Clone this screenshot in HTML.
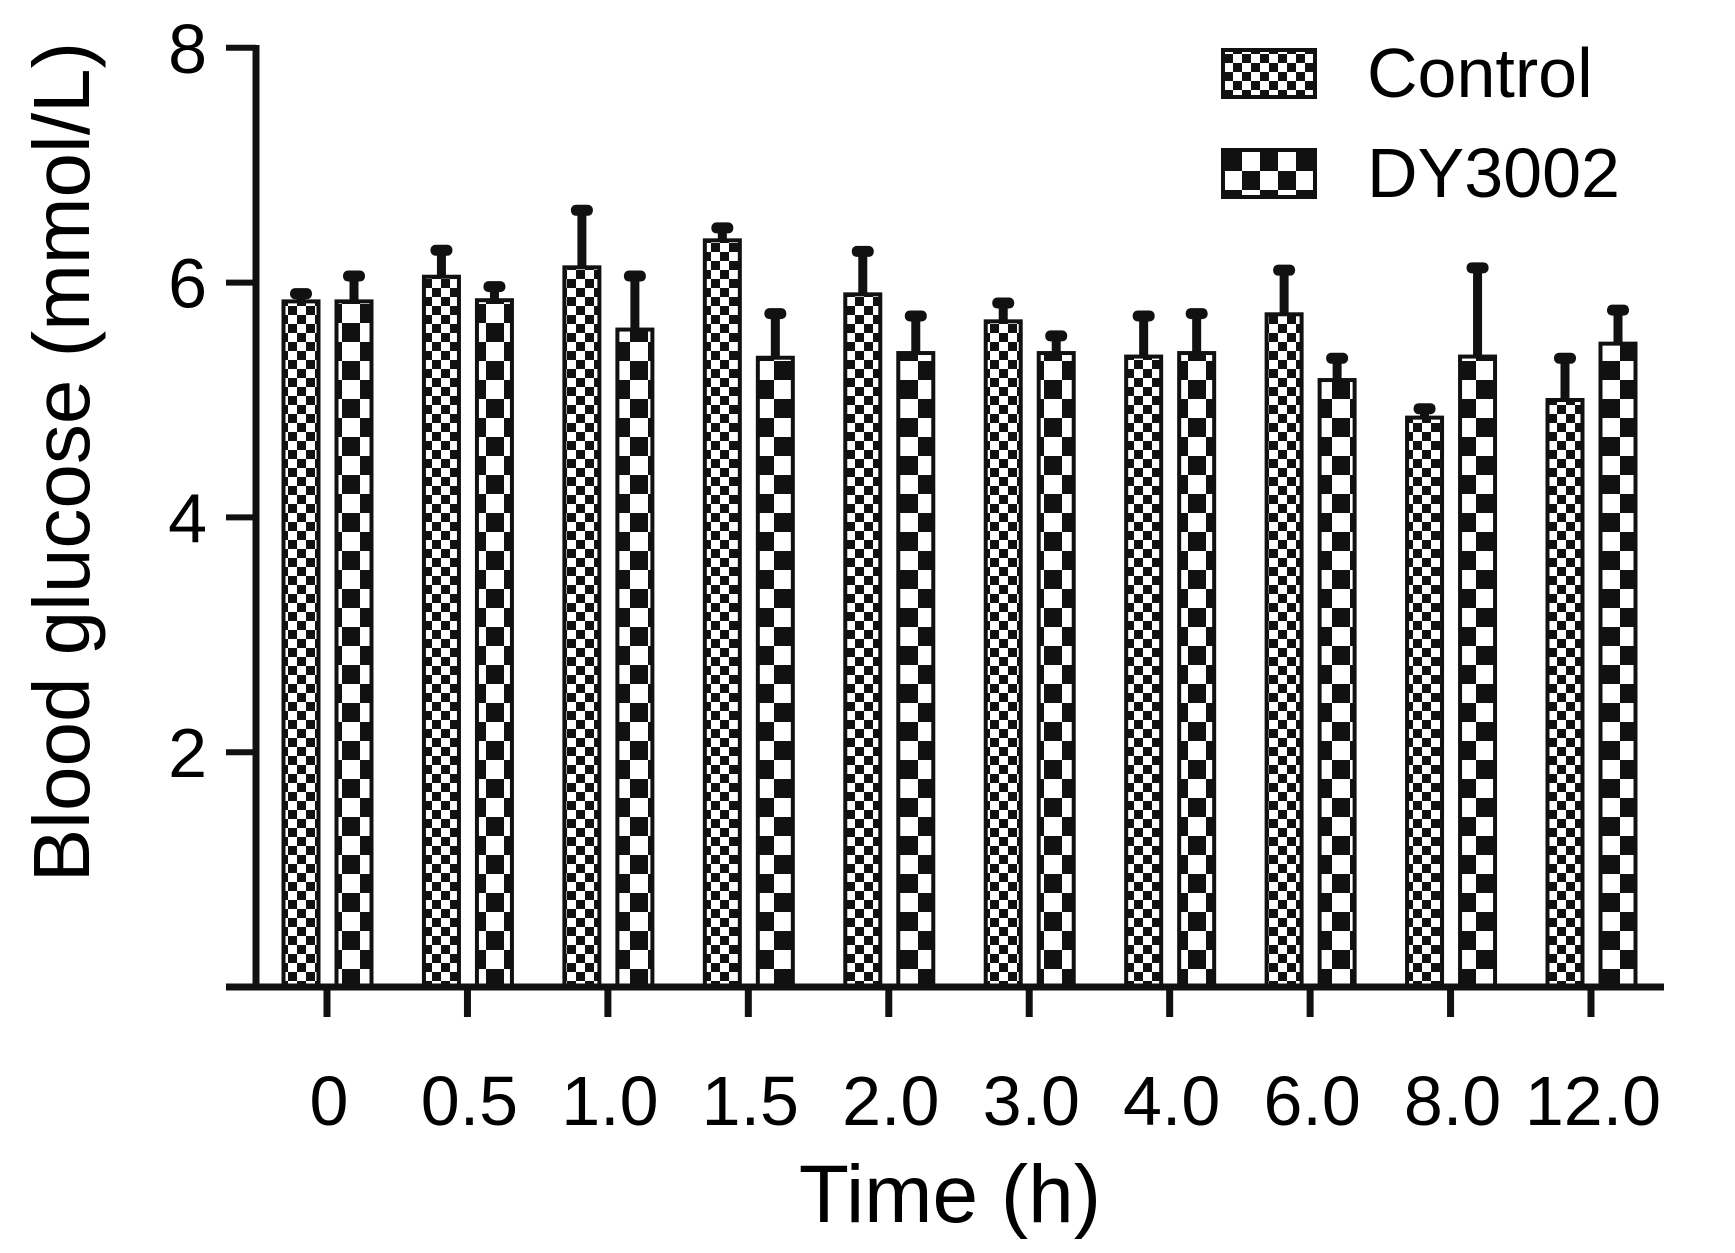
<!DOCTYPE html>
<html><head><meta charset="utf-8"><style>
html,body{margin:0;padding:0;background:#fff;}
svg{display:block;font-family:"Liberation Sans",Arial,sans-serif;}
</style></head><body>
<svg id="chart" width="1735" height="1253" viewBox="0 0 1735 1253">
<defs>
<pattern id="pc" width="18" height="18" patternUnits="userSpaceOnUse">
<rect width="18" height="18" fill="#fff"/><rect x="0" y="0" width="9" height="9" fill="#111"/><rect x="9" y="9" width="9" height="9" fill="#111"/>
</pattern>
<pattern id="pd" width="36" height="38" patternUnits="userSpaceOnUse">
<rect width="36" height="38" fill="#fff"/><rect x="0" y="0" width="18" height="19" fill="#111"/><rect x="18" y="19" width="18" height="19" fill="#111"/>
</pattern>
</defs>
<g id="bars"></g>
<g id="axes"></g>
<text x="68" y="462" font-size="80" text-anchor="middle" transform="rotate(-90 68 462)" dominant-baseline="middle">Blood glucose (mmol/L)</text>
<text x="950" y="1222" font-size="82" text-anchor="middle">Time (h)</text>
<g>
<g>
<rect x="1223" y="50" width="92" height="47" fill="url(#pc)" stroke="#111" stroke-width="4"/>
<text x="1367" y="97" font-size="70">Control</text></g>
<g>
<rect x="1223" y="150" width="92" height="47" fill="url(#pd)" stroke="#111" stroke-width="4"/>
<text x="1367" y="197" font-size="70">DY3002</text></g>
</g>
</svg>
<script>
const categories = ["0","0.5","1.0","1.5","2.0","3.0","4.0","6.0","8.0","12.0"];
const controlValues = [5.84,6.05,6.13,6.36,5.90,5.67,5.37,5.73,4.85,5.00];
const controlErr = [0.07,0.23,0.49,0.11,0.37,0.16,0.35,0.38,0.08,0.36];
const dyValues = [5.84,5.85,5.60,5.36,5.40,5.40,5.40,5.17,5.37,5.48];
const dyErr = [0.22,0.12,0.46,0.38,0.32,0.15,0.34,0.19,0.76,0.29];
const yTicks = [2,4,6,8];

const NS="http://www.w3.org/2000/svg";
const y0=987, unit=117.4;
function yScale(v){return y0-v*unit;}
const xFirst=327, xStep=(1591-327)/9;
function xScale(i){return xFirst+i*xStep;}
function mk(tag,attrs,parent){const e=document.createElementNS(NS,tag);for(const k in attrs)e.setAttribute(k,attrs[k]);parent.appendChild(e);return e;}
const bars=document.getElementById('bars'), axes=document.getElementById('axes');
const bw=35;
function drawBar(cx,v,err,fill,name){
  const top=yScale(v);
  const r=mk('rect',{x:cx-bw/2,y:top,width:bw,height:y0-top,fill:fill,stroke:'#111','stroke-width':4},bars);
  
  
  const et=yScale(v+err);
  const l=mk('line',{x1:cx,x2:cx,y1:top,y2:et,stroke:'#111','stroke-width':9},bars);
  
  
  const c=mk('rect',{x:cx-11,y:et-5,width:22,height:11,rx:5,fill:'#111'},bars);
  
  
}
categories.forEach((c,i)=>{
  const cx=xScale(i);
  drawBar(cx-26,controlValues[i],controlErr[i],'url(#pc)','bar-control-'+c);
  drawBar(cx+27,dyValues[i],dyErr[i],'url(#pd)','bar-dy3002-'+c);
  const t=mk('line',{x1:cx,x2:cx,y1:y0,y2:1017,stroke:'#111','stroke-width':7},axes);
  
  
  const lb=mk('text',{x:cx+2,y:1125,'font-size':70,'text-anchor':'middle'},axes);
  lb.textContent=c;
  
  
});
const ya=mk('line',{x1:256,x2:256,y1:45,y2:990,stroke:'#111','stroke-width':7},axes);


const xa=mk('line',{x1:226,x2:1664,y1:y0,y2:y0,stroke:'#111','stroke-width':7},axes);


yTicks.forEach(v=>{
  const y=yScale(v);
  const t=mk('line',{x1:226,x2:256,y1:y,y2:y,stroke:'#111','stroke-width':6},axes);
  
  
  const lb=mk('text',{x:207,y:y+25,'font-size':70,'text-anchor':'end'},axes);
  lb.textContent=v;
  
  
});
</script>
</body></html>
